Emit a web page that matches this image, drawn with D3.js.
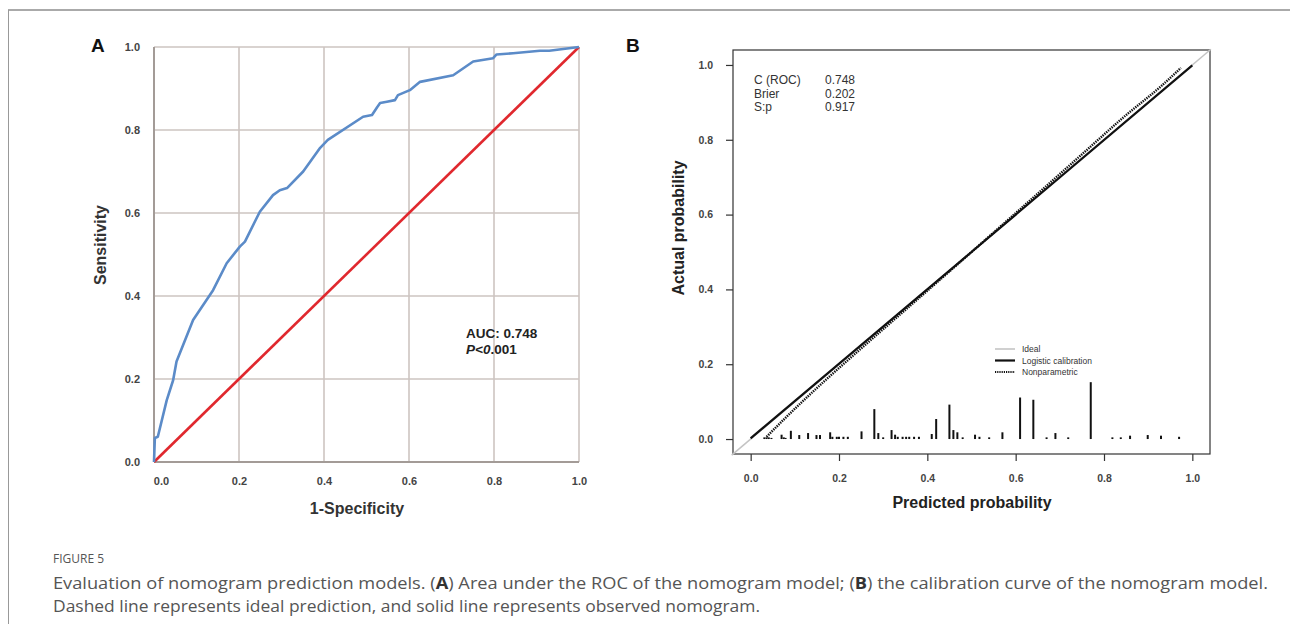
<!DOCTYPE html>
<html><head><meta charset="utf-8">
<script src="https://cdn.jsdelivr.net/npm/d3@7"></script>
<style>body{margin:0;background:#fff}svg{display:block}</style>
</head><body>
<svg id="c" width="1290" height="624"></svg>
<script>
// ---------- data ----------
const tickVals = [0, 0.2, 0.4, 0.6, 0.8, 1.0];
const rocFpr = [0, 0.002, 0.009, 0.030, 0.045, 0.053, 0.092, 0.139, 0.171, 0.202, 0.214, 0.249, 0.280, 0.296, 0.313, 0.351, 0.391, 0.409, 0.492, 0.513, 0.525, 0.532, 0.548, 0.567, 0.574, 0.602, 0.626, 0.704, 0.751, 0.798, 0.806, 0.845, 0.908, 0.930, 1.0];
const rocTpr = [0, 0.058, 0.061, 0.149, 0.197, 0.242, 0.342, 0.414, 0.479, 0.519, 0.531, 0.603, 0.643, 0.655, 0.660, 0.700, 0.757, 0.776, 0.832, 0.836, 0.855, 0.865, 0.868, 0.872, 0.884, 0.896, 0.916, 0.932, 0.965, 0.973, 0.982, 0.985, 0.991, 0.991, 1.0];
const refDiag = [[0, 0], [1, 1]];
const aucText = "AUC: 0.748";

const idealLine = [[-0.043, -0.043], [1.042, 1.042]];
const logisticPred = [0.0, 0.5, 1.0];
const logisticObs = [0.002, 0.5, 0.999];
const nonparPred = [0.036, 0.08, 0.17, 0.25, 0.35, 0.45, 0.55, 0.65, 0.75, 0.85, 0.93, 0.974];
const nonparObs = [0.006, 0.058, 0.158, 0.242, 0.345, 0.448, 0.552, 0.656, 0.761, 0.866, 0.944, 0.992];
const spikeX = [0.031, 0.036, 0.041, 0.047, 0.070, 0.075, 0.079, 0.091, 0.110, 0.130, 0.149, 0.157, 0.180, 0.185, 0.195, 0.200, 0.210, 0.220, 0.251, 0.280, 0.289, 0.300, 0.319, 0.327, 0.333, 0.344, 0.352, 0.359, 0.370, 0.381, 0.410, 0.420, 0.450, 0.459, 0.468, 0.480, 0.508, 0.518, 0.540, 0.570, 0.610, 0.640, 0.670, 0.690, 0.719, 0.770, 0.819, 0.838, 0.859, 0.899, 0.929, 0.970];
const spikeH = [0.0045, 0.0045, 0.0045, 0.003, 0.0116, 0.0045, 0.003, 0.022, 0.0107, 0.016, 0.0107, 0.0107, 0.018, 0.006, 0.006, 0.006, 0.006, 0.006, 0.0205, 0.080, 0.016, 0.0045, 0.024, 0.0116, 0.006, 0.006, 0.006, 0.006, 0.006, 0.006, 0.0134, 0.0535, 0.092, 0.024, 0.018, 0.0045, 0.0116, 0.006, 0.0045, 0.018, 0.111, 0.105, 0.0045, 0.016, 0.0045, 0.152, 0.0045, 0.0045, 0.009, 0.0107, 0.009, 0.006];
const statNames = ["C (ROC)", "Brier", "S:p"];
const statVals = ["0.748", "0.202", "0.917"];
const legendNames = ["Ideal", "Logistic calibration", "Nonparametric"];

const captionHead = "FIGURE 5";

// ---------- canvas ----------
const svg = d3.select("#c");
svg.append("line").attr("x1", 8).attr("x2", 1290).attr("y1", 10).attr("y2", 10)
  .attr("stroke", "#aaa").attr("stroke-width", 2);
svg.append("line").attr("x1", 8.5).attr("x2", 8.5).attr("y1", 10).attr("y2", 624)
  .attr("stroke", "#999").attr("stroke-width", 1);

const AF = "'Liberation Sans', Arial, sans-serif";

// ---------- Panel A ----------
const xA = d3.scaleLinear([0, 1], [154, 579]);
const yA = d3.scaleLinear([0, 1], [462, 47]);
const gA = svg.append("g");
gA.selectAll(".gv").data(tickVals).join("line")
  .attr("x1", d => xA(d)).attr("x2", d => xA(d)).attr("y1", yA(0)).attr("y2", yA(1))
  .attr("stroke", "#cdc5c1").attr("stroke-width", 1.6);
gA.selectAll(".gh").data(tickVals).join("line")
  .attr("y1", d => yA(d)).attr("y2", d => yA(d)).attr("x1", xA(0)).attr("x2", xA(1))
  .attr("stroke", "#cdc5c1").attr("stroke-width", 1.6);
gA.append("line").attr("x1", xA(0)).attr("x2", xA(0)).attr("y1", yA(0)).attr("y2", yA(1))
  .attr("stroke", "#a39b97").attr("stroke-width", 2);
gA.append("line").attr("x1", xA(0)).attr("x2", xA(1)).attr("y1", yA(0)).attr("y2", yA(0))
  .attr("stroke", "#a39b97").attr("stroke-width", 2);

const axAx = gA.append("g").attr("transform", `translate(0,${yA(0)})`)
  .call(d3.axisBottom(xA).tickValues(tickVals).tickFormat(d3.format(".1f")).tickSize(0).tickPadding(15));
const axAy = gA.append("g").attr("transform", `translate(${xA(0)},0)`)
  .call(d3.axisLeft(yA).tickValues(tickVals).tickFormat(d3.format(".1f")).tickSize(0).tickPadding(14));
[axAx, axAy].forEach(a => {
  a.select(".domain").remove();
  a.selectAll("text").attr("font-family", AF).attr("font-weight", "bold").attr("font-size", 11).attr("fill", "#444");
});
axAx.selectAll(".tick").filter(d => d === 0).select("text").attr("dx", 7);

const lineA = d3.line().x(d => xA(d[0])).y(d => yA(d[1]));
gA.append("path").datum(refDiag).attr("d", lineA).attr("fill", "none")
  .attr("stroke", "#e0282e").attr("stroke-width", 2.6);
const roc = rocFpr.map((f, i) => [f, rocTpr[i]]);
gA.append("path").datum(roc).attr("d", lineA).attr("fill", "none")
  .attr("stroke", "#5b8bc8").attr("stroke-width", 2.6).attr("stroke-linejoin", "round");

gA.append("text").attr("x", 466).attr("y", 338).attr("font-family", AF).attr("font-weight", "bold")
  .attr("font-size", 13.5).attr("fill", "#222").text(aucText);
const pt = gA.append("text").attr("x", 466).attr("y", 354).attr("font-family", AF).attr("font-weight", "bold")
  .attr("font-size", 13.5).attr("fill", "#222");
pt.append("tspan").attr("font-style", "italic").text("P<0");
pt.append("tspan").text(".001");

gA.append("text").attr("x", 357).attr("y", 514).attr("text-anchor", "middle").attr("font-family", AF)
  .attr("font-weight", "bold").attr("font-size", 16).attr("fill", "#333").text("1-Specificity");
gA.append("text").attr("transform", "translate(106,245) rotate(-90)").attr("text-anchor", "middle")
  .attr("font-family", AF).attr("font-weight", "bold").attr("font-size", 16).attr("fill", "#333").text("Sensitivity");
svg.append("text").attr("x", 91).attr("y", 52).attr("font-family", AF).attr("font-weight", "bold")
  .attr("font-size", 19).attr("fill", "#111").text("A");

// ---------- Panel B ----------
const xB = d3.scaleLinear([-0.04, 1.04], [733, 1210]);
const yB = d3.scaleLinear([-0.04, 1.04], [454, 50]);
const gB = svg.append("g");
gB.append("rect").attr("x", 733).attr("y", 50).attr("width", 1210 - 733).attr("height", 454 - 50)
  .attr("fill", "none").attr("stroke", "#333").attr("stroke-width", 1.2);

const axBx = gB.append("g").attr("transform", "translate(0,454)")
  .call(d3.axisBottom(xB).tickValues(tickVals).tickFormat(d3.format(".1f")).tickSize(7).tickPadding(14));
const axBy = gB.append("g").attr("transform", "translate(733,0)")
  .call(d3.axisLeft(yB).tickValues(tickVals).tickFormat(d3.format(".1f")).tickSize(7).tickPadding(13));
[axBx, axBy].forEach(a => {
  a.select(".domain").remove();
  a.selectAll("line").attr("stroke", "#333").attr("stroke-width", 1.2);
  a.selectAll("text").attr("font-family", AF).attr("font-weight", "bold").attr("font-size", 10.5).attr("fill", "#444");
});

const lineB = d3.line().x(d => xB(d[0])).y(d => yB(d[1]));
gB.append("path").datum(idealLine).attr("d", lineB).attr("fill", "none")
  .attr("stroke", "#c4c4c4").attr("stroke-width", 1.6);
gB.append("path").datum(logisticPred.map((p, i) => [p, logisticObs[i]]))
  .attr("d", d3.line().x(d => xB(d[0])).y(d => yB(d[1])).curve(d3.curveMonotoneX))
  .attr("fill", "none").attr("stroke", "#111").attr("stroke-width", 2.2);
gB.append("path").datum(nonparPred.map((p, i) => [p, nonparObs[i]]))
  .attr("d", d3.line().x(d => xB(d[0])).y(d => yB(d[1])).curve(d3.curveMonotoneX))
  .attr("fill", "none").attr("stroke", "#111").attr("stroke-width", 2.4).attr("stroke-dasharray", "1.4,1");

gB.selectAll(".sp").data(spikeX.map((x, i) => [x, spikeH[i]])).join("line")
  .attr("x1", d => xB(d[0])).attr("x2", d => xB(d[0]))
  .attr("y1", yB(0)).attr("y2", d => yB(d[1]))
  .attr("stroke", "#111").attr("stroke-width", 2);

gB.selectAll(".sn").data(statNames).join("text")
  .attr("x", 754).attr("y", (d, i) => 84 + i * 13.5).attr("font-family", AF).attr("font-size", 12)
  .attr("fill", "#333").text(d => d);
gB.selectAll(".sv").data(statVals).join("text")
  .attr("x", 825).attr("y", (d, i) => 84 + i * 13.5).attr("font-family", AF).attr("font-size", 12)
  .attr("fill", "#333").text(d => d);

const legStyles = [
  { c: "#c4c4c4", w: 1.6, dash: null },
  { c: "#111", w: 2.2, dash: null },
  { c: "#111", w: 2, dash: "1.2,1" }
];
legendNames.forEach((n, i) => {
  const y = 349 + i * 11.5;
  const l = gB.append("line").attr("x1", 995).attr("x2", 1015).attr("y1", y).attr("y2", y)
    .attr("stroke", legStyles[i].c).attr("stroke-width", legStyles[i].w);
  if (legStyles[i].dash) l.attr("stroke-dasharray", legStyles[i].dash);
  gB.append("text").attr("x", 1022).attr("y", y + 3).attr("font-family", AF).attr("font-size", 8.5)
    .attr("fill", "#333").text(n);
});

gB.append("text").attr("x", 972).attr("y", 508).attr("text-anchor", "middle").attr("font-family", AF)
  .attr("font-weight", "bold").attr("font-size", 16).attr("fill", "#222").text("Predicted probability");
gB.append("text").attr("transform", "translate(684,228) rotate(-90)").attr("text-anchor", "middle")
  .attr("font-family", AF).attr("font-weight", "bold").attr("font-size", 16).attr("fill", "#222").text("Actual probability");
svg.append("text").attr("x", 626).attr("y", 52).attr("font-family", AF).attr("font-weight", "bold")
  .attr("font-size", 19).attr("fill", "#111").text("B");

// ---------- caption ----------
const CF = "'Open Sans', 'Noto Sans', sans-serif";
svg.append("text").attr("x", 53).attr("y", 563).attr("font-family", CF).attr("font-size", 13)
  .attr("fill", "#555").attr("textLength", 51).attr("lengthAdjust", "spacingAndGlyphs").text(captionHead);
const c1 = svg.append("text").attr("x", 53).attr("y", 589).attr("font-family", CF).attr("font-size", 16.5)
  .attr("fill", "#555").attr("textLength", 1215).attr("lengthAdjust", "spacingAndGlyphs");
c1.append("tspan").text("Evaluation of nomogram prediction models. (");
c1.append("tspan").attr("font-weight", "bold").attr("fill", "#333").text("A");
c1.append("tspan").text(") Area under the ROC of the nomogram model; (");
c1.append("tspan").attr("font-weight", "bold").attr("fill", "#333").text("B");
c1.append("tspan").text(") the calibration curve of the nomogram model.");
svg.append("text").attr("x", 53).attr("y", 612).attr("font-family", CF).attr("font-size", 16.5)
  .attr("fill", "#555").attr("textLength", 707).attr("lengthAdjust", "spacingAndGlyphs")
  .text("Dashed line represents ideal prediction, and solid line represents observed nomogram.");
</script>
</body></html>
